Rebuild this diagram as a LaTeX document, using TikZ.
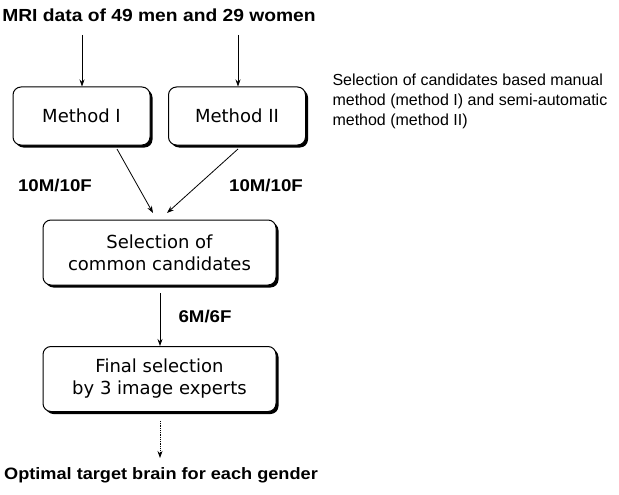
\documentclass[tikz,border=0pt]{standalone}
\usepackage{fontspec}
\setmainfont{Liberation Sans}
\newfontfamily\boxfont{DejaVu Sans}
\newfontfamily\wideboldfont[FakeStretch=1.1]{Liberation Sans Bold}
\usetikzlibrary{arrows.meta,shadows}
\begin{document}
\begin{tikzpicture}[x=1pt,y=-1pt,
  flowbox/.style={draw=black,line width=1pt,rounded corners=8pt,fill=white,
    minimum width=137pt,minimum height=58pt,align=center,
    drop shadow={shadow xshift=2.5pt,shadow yshift=-2.5pt,opacity=1,fill=black},
    font=\boxfont\fontsize{18}{22}\selectfont},
  widebox/.style={flowbox,minimum width=233pt,minimum height=65pt},
  headtext/.style={font=\wideboldfont\fontsize{17.5}{20}\selectfont},
  lbl/.style={font=\wideboldfont\fontsize{17}{20}\selectfont},
  note/.style={font=\fontsize{16}{20}\selectfont,align=left,anchor=west},
  conn/.style={line width=0.8pt,-{Stealth[length=7pt,width=5pt]}}
]
\useasboundingbox (0,0) rectangle (619,495);
\node[headtext] (top) at (159,15) {MRI data of 49 men and 29 women};
\node[flowbox] (m1) at (81.5,116) {Method I};
\node[flowbox] (m2) at (237,116) {Method II};
\node[widebox] (sel) at (159.5,252.5) {Selection of\\common candidates};
\node[widebox] (fin) at (159.5,379) {Final selection\\by 3 image experts};
\node[headtext,font=\wideboldfont\fontsize{16.5}{20}\selectfont] (bot) at (161,475) {Optimal target brain for each gender};
\node[note] (nt) at (329,101) {Selection of candidates based manual\\method (method I) and semi-automatic\\method (method II)};
\coordinate (a1s) at (82,35);
\coordinate (a2s) at (238,35);
\draw[conn] (a1s) -- (m1.north -| a1s);
\draw[conn] (a2s) -- (m2.north -| a2s);
\coordinate (d1s) at (117,149);
\coordinate (d1e) at (153,213);
\coordinate (d2s) at (238,149);
\coordinate (d2e) at (167,213);
\draw[conn] (d1s) -- (d1e);
\draw[conn] (d2s) -- (d2e);
\node[lbl] (l1) at (55,186) {10M/10F};
\node[lbl] (l2) at (266,186) {10M/10F};
\coordinate (e1s) at (160,293);
\draw[conn] (e1s) -- (fin.north -| e1s);
\node[lbl,anchor=west] (l3) at (175,317) {6M/6F};
\coordinate (e2s) at (160,421);
\coordinate (e2e) at (160,458);
\draw[conn,densely dotted] (e2s) -- (e2e);
\end{tikzpicture}
\end{document}
